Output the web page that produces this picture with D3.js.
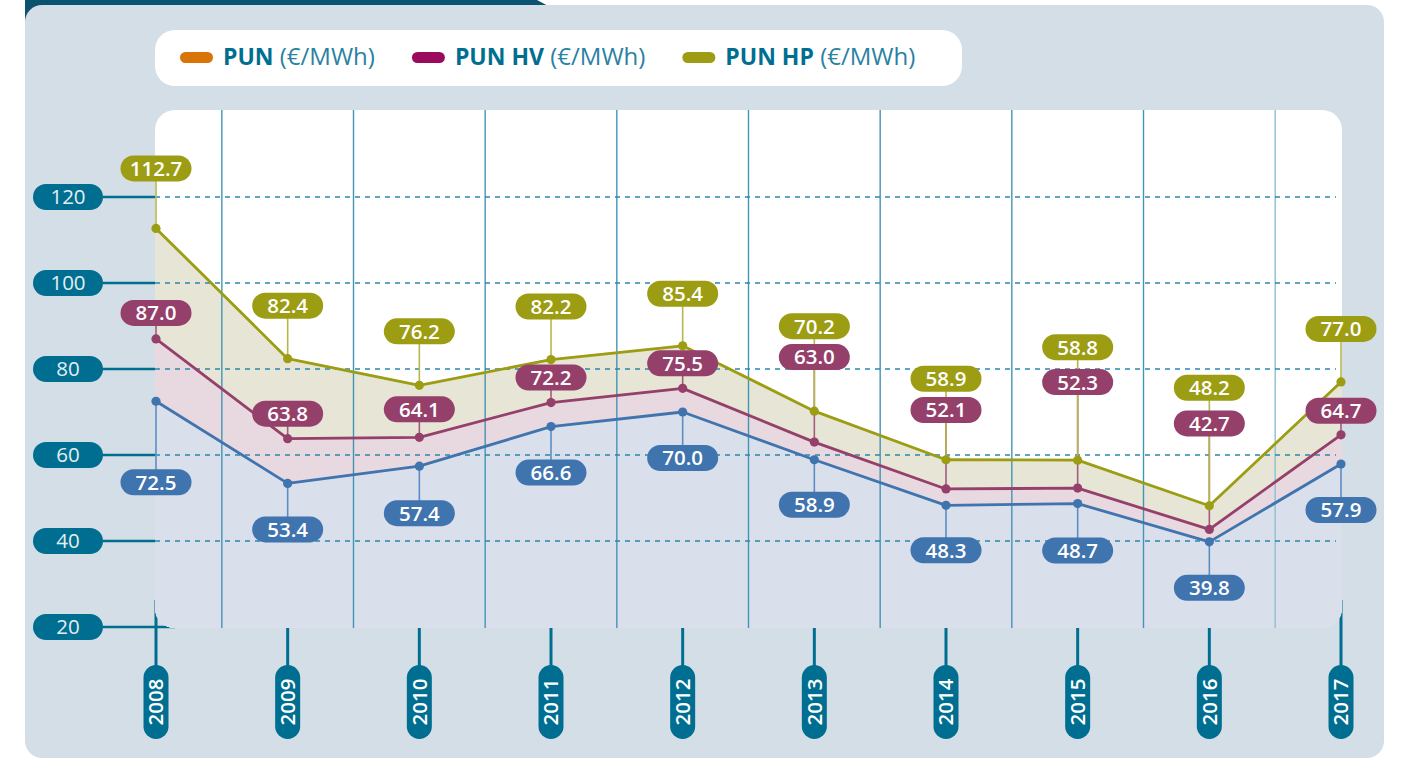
<!DOCTYPE html>
<html>
<head>
<meta charset="UTF-8">
<title>PUN, PUN HV, PUN HP 2008-2017</title>
<style>
  body { margin: 0; background: #fff; }
  svg { display: block; font-family: "Open Sans", sans-serif; }
</style>
</head>
<body>
<svg id="chart" width="1401" height="760"></svg>
<script src="https://cdn.jsdelivr.net/npm/d3@7/dist/d3.min.js"></script>
<script>
var years = [2008, 2009, 2010, 2011, 2012, 2013, 2014, 2015, 2016, 2017];
var pun   = [72.5, 53.4, 57.4, 66.6, 70.0, 58.9, 48.3, 48.7, 39.8, 57.9];
var punHV = [87.0, 63.8, 64.1, 72.2, 75.5, 63.0, 52.1, 52.3, 42.7, 64.7];
var punHP = [112.7, 82.4, 76.2, 82.2, 85.4, 70.2, 58.9, 58.8, 48.2, 77.0];
var yTicks = [20, 40, 60, 80, 100, 120];
var legendNames = ["PUN", "PUN HV", "PUN HP"];
var legendUnit = " (€/MWh)";

// label pill distance from its dot, px (negative = above)
var hpShift  = [-60, -53, -54, -53, -52, -85, -81, -113, -118, -53];
var hvShift  = [-26, -25, -28, -25, -25, -85, -79, -106, -106, -24];
var punShift = [81, 46, 47, 46, 46, 45, 45, 47, 46, 46];

var teal = "#006e91";
var legendColors = ["#d97508", "#9c0a5e", "#9c9d12"];

var svg = d3.select("#chart");
var plot = {left: 155, right: 1342, top: 110, bottom: 628};

var x = d3.scalePoint().domain(years).range([156, 1341]);
var y = d3.scaleLinear().domain([20, 120]).range([627, 197]);

// background panel + dark tab
svg.append("path")
  .attr("d", "M25,0 L537,0 L552,8 L552,40 L25,40 Z")
  .attr("fill", "#0b5170");
svg.append("rect")
  .attr("x", 25).attr("y", 5).attr("width", 1359).attr("height", 753)
  .attr("rx", 17).attr("fill", "#d4dee6");

// legend
var legendG = svg.append("g");
legendG.append("rect")
  .attr("x", 155).attr("y", 30).attr("width", 807).attr("height", 56)
  .attr("rx", 20).attr("fill", "#fff");
var lx = 180;
legendNames.forEach(function (name, i) {
  legendG.append("rect")
    .attr("x", lx).attr("y", 52).attr("width", 33).attr("height", 11)
    .attr("rx", 5.5).attr("fill", legendColors[i]);
  var t = legendG.append("text")
    .attr("x", lx + 43).attr("y", 65).attr("fill", teal);
  t.append("tspan").style("font-size", "23px").style("font-weight", 700).text(name);
  t.append("tspan").style("font-size", "24px").style("font-weight", 400)
    .attr("fill", "#2a82a2").text(legendUnit);
  lx += 43 + t.node().getComputedTextLength() + 37;
});

// axis connectors (under the plot)
svg.append("g").selectAll("line").data(yTicks).join("line")
  .attr("x1", 100).attr("x2", 175)
  .attr("y1", function (d) { return y(d); }).attr("y2", function (d) { return y(d); })
  .attr("stroke", teal).attr("stroke-width", 2.5);
svg.append("g").selectAll("line").data(years).join("line")
  .attr("x1", function (d) { return x(d); }).attr("x2", function (d) { return x(d); })
  .attr("y1", 600).attr("y2", 668)
  .attr("stroke", teal).attr("stroke-width", 3);

// plot area
svg.append("defs").append("clipPath").attr("id", "plotclip")
  .append("rect")
  .attr("x", plot.left).attr("y", plot.top)
  .attr("width", plot.right - plot.left).attr("height", plot.bottom - plot.top)
  .attr("rx", 20);
svg.append("rect")
  .attr("x", plot.left).attr("y", plot.top)
  .attr("width", plot.right - plot.left).attr("height", plot.bottom - plot.top)
  .attr("rx", 20).attr("fill", "#fff");

var series = [
  {vals: punHP, line: "#9c9d12", fill: "#e6e5d6", lead: "#b6b64c", shift: hpShift},
  {vals: punHV, line: "#953f6b", fill: "#e8d8df", lead: "#a65a80", shift: hvShift},
  {vals: pun,   line: "#3f74ae", fill: "#dadfec", lead: "#5c8dc2", shift: punShift}
];

var clipG = svg.append("g").attr("clip-path", "url(#plotclip)");
series.forEach(function (s) {
  var area = d3.area()
    .x(function (d, i) { return x(years[i]); })
    .y0(plot.bottom + 5)
    .y1(function (d) { return y(d); });
  clipG.append("path").attr("d", area(s.vals)).attr("fill", s.fill)
    .attr("stroke", s.fill).attr("stroke-width", 2);
});

// grid
var mids = years.slice(1).map(function (yr, i) { return (x(years[i]) + x(yr)) / 2; });
clipG.append("g").selectAll("line").data(mids).join("line")
  .attr("x1", function (d) { return d; }).attr("x2", function (d) { return d; })
  .attr("y1", plot.top).attr("y2", plot.bottom)
  .attr("stroke", function (d, i) { return i === mids.length - 1 ? "#8ec0d1" : "#4394b4"; })
  .attr("stroke-width", 1.4);
clipG.append("g").selectAll("line").data(yTicks.filter(function (d) { return d > 20; })).join("line")
  .attr("x1", plot.left).attr("x2", 1336)
  .attr("y1", function (d) { return y(d); }).attr("y2", function (d) { return y(d); })
  .attr("stroke", "#2a86a9").attr("stroke-width", 1.3)
  .attr("stroke-dasharray", "5,5");

// lines
series.forEach(function (s) {
  var line = d3.line()
    .x(function (d, i) { return x(years[i]); })
    .y(function (d) { return y(d); });
  svg.append("path").attr("d", line(s.vals))
    .attr("fill", "none").attr("stroke", s.line).attr("stroke-width", 2.8)
    .attr("stroke-linejoin", "round");
});

// leaders: HV, then HP, then PUN
[series[1], series[0], series[2]].forEach(function (s) {
  svg.append("g").selectAll("line").data(s.vals).join("line")
    .attr("x1", function (d, i) { return x(years[i]); })
    .attr("x2", function (d, i) { return x(years[i]); })
    .attr("y1", function (d) { return y(d); })
    .attr("y2", function (d, i) { return y(d) + s.shift[i]; })
    .attr("stroke", s.lead).attr("stroke-width", 1.6);
});

// dots
series.forEach(function (s) {
  svg.append("g").selectAll("circle").data(s.vals).join("circle")
    .attr("cx", function (d, i) { return x(years[i]); })
    .attr("cy", function (d) { return y(d); })
    .attr("r", 4.6).attr("fill", s.line);
});

// value pills
series.forEach(function (s) {
  var g = svg.append("g").selectAll("g").data(s.vals).join("g")
    .attr("transform", function (d, i) {
      return "translate(" + x(years[i]) + "," + (y(d) + s.shift[i]) + ")";
    });
  g.append("rect")
    .attr("x", -35.5).attr("y", -13).attr("width", 71).attr("height", 26)
    .attr("rx", 13).attr("fill", s.line);
  g.append("text")
    .attr("text-anchor", "middle").attr("dy", "0.36em")
    .attr("fill", "#fff").style("font-size", "20.5px").style("font-weight", 600)
    .text(function (d) { return d.toFixed(1); });
});

// y axis pills
var yg = svg.append("g").selectAll("g").data(yTicks).join("g")
  .attr("transform", function (d) { return "translate(68," + y(d) + ")"; });
yg.append("rect")
  .attr("x", -35).attr("y", -13).attr("width", 70).attr("height", 26)
  .attr("rx", 13).attr("fill", teal);
yg.append("text")
  .attr("text-anchor", "middle").attr("dy", "0.36em")
  .attr("fill", "#e4eef2").style("font-size", "20.5px")
  .text(function (d) { return d; });

// x axis pills
var xg = svg.append("g").selectAll("g").data(years).join("g")
  .attr("transform", function (d) { return "translate(" + x(d) + ",702) rotate(-90)"; });
xg.append("rect")
  .attr("x", -37).attr("y", -12.5).attr("width", 74).attr("height", 25)
  .attr("rx", 12.5).attr("fill", teal);
xg.append("text")
  .attr("text-anchor", "middle").attr("dy", "0.36em")
  .attr("fill", "#fff").style("font-size", "20.5px").style("font-weight", 600)
  .text(function (d) { return d; });
</script>
</body>
</html>
